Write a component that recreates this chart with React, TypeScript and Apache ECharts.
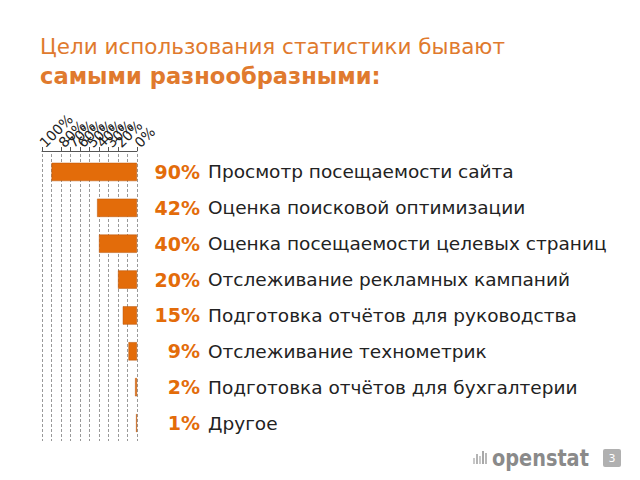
import React, { useEffect, useRef } from "react";
import * as echarts from "echarts";

const categories = [
  "Просмотр посещаемости сайта",
  "Оценка поисковой оптимизации",
  "Оценка посещаемости целевых страниц",
  "Отслеживание рекламных кампаний",
  "Подготовка отчётов для руководства",
  "Отслеживание технометрик",
  "Подготовка отчётов для бухгалтерии",
  "Другое",
];
const values = [90, 42, 40, 20, 15, 9, 2, 1];
const titleLine1 = "Цели использования статистики бывают";
const titleLine2 = "самыми разнообразными:";

const ORANGE = "#E36C0A";
const TITLE_ORANGE = "#E07A2E";

export default function App() {
  const ref = useRef<HTMLDivElement>(null);
  useEffect(() => {
    document.body.style.margin = "0";
    const chart = echarts.init(ref.current!, null, { renderer: "svg" });
    chart.setOption({
      animation: false,
      backgroundColor: "#ffffff",
      textStyle: { fontFamily: "DejaVu Sans" },
      title: [
        {
          text: titleLine1,
          left: 35,
          top: 30,
          textStyle: { fontSize: 21.5, fontWeight: "normal", color: TITLE_ORANGE, fontFamily: "DejaVu Sans" },
        },
        {
          text: titleLine2,
          left: 35,
          top: 59,
          textStyle: { fontSize: 22.6, fontWeight: "bold", color: TITLE_ORANGE, fontFamily: "DejaVu Sans" },
        },
      ],
      grid: { left: 42, top: 154, width: 95, height: 287, containLabel: false },
      xAxis: {
        type: "value",
        position: "top",
        inverse: true,
        min: 0,
        max: 100,
        interval: 10,
        offset: 3,
        axisLine: { show: true, lineStyle: { color: "#555", width: 1 } },
        axisTick: { show: true, length: 4, lineStyle: { color: "#555" } },
        axisLabel: {
          show: true,
          rotate: -45,
          interval: 0,
          hideOverlap: false,
          showMinLabel: true,
          showMaxLabel: true,
          formatter: "{value}%",
          fontSize: 14,
          color: "#222",
          margin: 6,
          fontFamily: "DejaVu Sans",
        },
        splitLine: { show: true, lineStyle: { color: "#999", type: [3, 2], width: 1 } },
      },
      yAxis: [
        {
          type: "category",
          data: categories,
          inverse: true,
          position: "right",
          offset: 0,
          axisLine: { show: false },
          axisTick: { show: false },
          axisLabel: {
            margin: 63,
            align: "right",
            formatter: (name: string) => `${values[categories.indexOf(name)]}%`,
            fontSize: 19,
            fontWeight: "bold",
            color: ORANGE,
            fontFamily: "DejaVu Sans",
          },
        },
        {
          type: "category",
          data: categories,
          inverse: true,
          position: "right",
          offset: 0,
          axisLine: { show: false },
          axisTick: { show: false },
          splitLine: { show: false },
          axisLabel: {
            margin: 71,
            align: "left",
            fontSize: 18.5,
            color: "#222",
            fontFamily: "DejaVu Sans",
          },
        },
      ],
      series: [
        {
          type: "bar",
          data: values,
          yAxisIndex: 0,
          barCategoryGap: "49%",
          itemStyle: { color: ORANGE, borderColor: "#B85508", borderWidth: 0.5 },
        },
      ],
      graphic: [
        { type: "rect", shape: { x: 473, y: 458, width: 2, height: 6 }, style: { fill: "#c8c8c8" } },
        { type: "rect", shape: { x: 476, y: 454, width: 2, height: 10 }, style: { fill: "#b4b4b4" } },
        { type: "rect", shape: { x: 479, y: 456, width: 2, height: 8 }, style: { fill: "#c8c8c8" } },
        { type: "rect", shape: { x: 482, y: 451, width: 2, height: 13 }, style: { fill: "#a8a8a8" } },
        { type: "rect", shape: { x: 485, y: 453, width: 2, height: 11 }, style: { fill: "#b8b8b8" } },
        {
          type: "text",
          x: 492,
          y: 458,
          scaleX: 0.84,
          style: { text: "openstat", fill: "#8a8a8a", font: "bold 23px 'DejaVu Sans'", textVerticalAlign: "middle" },
        },
        { type: "rect", shape: { x: 603, y: 449, width: 18, height: 18, r: 2 }, style: { fill: "#b0b0b0" } },
        {
          type: "text",
          x: 612,
          y: 458,
          style: { text: "3", fill: "#ffffff", font: "11px 'DejaVu Sans'", textAlign: "center", textVerticalAlign: "middle" },
        },
      ],
    });
    return () => chart.dispose();
  }, []);
  return <div ref={ref} style={{ position: "fixed", left: 0, top: 0, width: 640, height: 480 }} />;
}
